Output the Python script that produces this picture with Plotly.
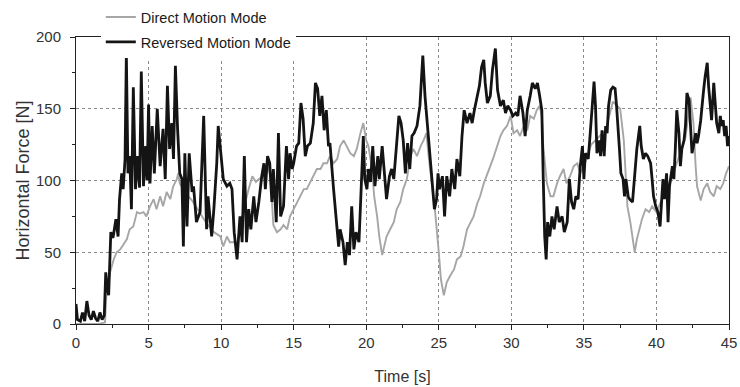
import plotly.graph_objects as go

# ---- Reversed Motion Mode (black) : time [s], force [N] ----
t_rev = [0.0, 0.1, 0.3, 0.45, 0.6, 0.75, 0.9, 1.05, 1.2, 1.35, 1.5, 1.65, 1.8, 1.95, 2.05, 2.15, 2.25, 2.4, 2.55, 2.65,
         2.75, 2.9, 3.0, 3.15, 3.25, 3.38, 3.47, 3.58, 3.7, 3.82, 3.95, 4.1, 4.25, 4.38, 4.5, 4.65, 4.8, 4.9, 5.0, 5.1,
         5.25, 5.4, 5.6, 5.8, 6.0, 6.15, 6.3, 6.45, 6.6, 6.72, 6.85, 7.0, 7.15, 7.3, 7.4, 7.5, 7.65, 7.8, 8.0, 8.1,
         8.3, 8.55, 8.8, 9.0, 9.1, 9.35, 9.5, 9.7, 9.8, 10.0, 10.15, 10.4, 10.6, 10.75, 10.9, 11.1, 11.3, 11.45, 11.6, 11.75,
         11.9, 12.05, 12.25, 12.4, 12.6, 12.8, 12.95, 13.05, 13.2, 13.35, 13.5, 13.6, 13.8, 13.95, 14.1, 14.3, 14.5, 14.65, 14.75, 14.9,
         15.0, 15.2, 15.35, 15.5, 15.65, 15.8, 15.95, 16.15, 16.35, 16.5, 16.65, 16.8, 16.95, 17.1, 17.25, 17.4, 17.5, 17.75, 17.95, 18.1,
         18.2, 18.4, 18.55, 18.7, 18.85, 19.0, 19.15, 19.3, 19.5, 19.7, 19.8, 19.9, 20.05, 20.15, 20.3, 20.45, 20.6, 20.8, 20.9, 21.1,
         21.25, 21.4, 21.6, 21.75, 21.9, 22.1, 22.25, 22.4, 22.55, 22.7, 22.85, 23.0, 23.15, 23.3, 23.5, 23.7, 23.8, 23.9, 24.05, 24.2,
         24.4, 24.55, 24.7, 24.85, 24.95, 25.05, 25.25, 25.4, 25.55, 25.75, 25.9, 26.1, 26.25, 26.45, 26.6, 26.75, 26.95, 27.15, 27.3, 27.45,
         27.65, 27.8, 27.95, 28.1, 28.2, 28.35, 28.55, 28.7, 28.9, 29.05, 29.25, 29.45, 29.6, 29.75, 29.95, 30.1, 30.3, 30.45, 30.6, 30.8,
         30.95, 31.1, 31.3, 31.45, 31.65, 31.8, 31.95, 32.1, 32.2, 32.3, 32.4, 32.5, 32.65, 32.8, 32.95, 33.15, 33.3, 33.5, 33.65, 33.85,
         34.0, 34.15, 34.3, 34.45, 34.6, 34.75, 34.9, 35.0, 35.1, 35.3, 35.4, 35.55, 35.7, 35.8, 35.9, 36.05, 36.15, 36.25, 36.4, 36.5,
         36.6, 36.7, 36.85, 37.0, 37.15, 37.25, 37.35, 37.45, 37.55, 37.7, 37.8, 37.9, 38.05, 38.15, 38.35, 38.45, 38.55, 38.65, 38.85, 38.95,
         39.1, 39.25, 39.4, 39.6, 39.7, 39.8, 39.95, 40.1, 40.25, 40.35, 40.45, 40.55, 40.7, 40.8, 40.9, 41.1, 41.2, 41.3, 41.4, 41.55,
         41.65, 41.75, 41.9, 42.0, 42.1, 42.25, 42.35, 42.45, 42.55, 42.7, 42.8, 42.9, 43.05, 43.15, 43.25, 43.35, 43.5, 43.6, 43.7, 43.8,
         43.95, 44.05, 44.15, 44.3, 44.4, 44.5, 44.6, 44.7, 44.8, 44.9, 45.0]
f_rev = [14, 3, 2, 8, 2, 16, 6, 3, 9, 4, 2, 8, 3, 6, 36, 25, 20, 64, 60, 68,
         73, 61, 87, 105, 94, 115, 188, 105, 117, 80, 165, 94, 117, 95, 176, 96, 124, 100, 153, 98,
         138, 105, 150, 110, 136, 101, 166, 122, 140, 115, 180, 136, 105, 101, 54, 119, 68, 119, 92, 96,
         71, 78, 145, 66, 89, 61, 80, 112, 138, 117, 101, 96, 98, 94, 64, 45, 75, 57, 117, 57,
         80, 66, 89, 71, 85, 103, 112, 94, 117, 112, 85, 108, 71, 133, 75, 82, 124, 101, 119, 108,
         112, 124, 126, 154, 143, 117, 124, 126, 140, 168, 164, 145, 159, 135, 149, 124, 126, 94, 71, 54,
         66, 57, 41, 57, 48, 82, 52, 64, 57, 108, 131, 101, 94, 108, 99, 124, 96, 117, 101, 124,
         108, 87, 103, 108, 101, 124, 145, 140, 128, 105, 126, 108, 131, 133, 138, 152, 168, 187, 159, 140,
         112, 94, 80, 87, 105, 94, 103, 75, 103, 89, 108, 94, 115, 103, 131, 149, 140, 147, 140, 149,
         159, 166, 179, 184, 168, 154, 159, 177, 192, 163, 152, 156, 147, 152, 149, 145, 147, 145, 159, 147,
         131, 149, 159, 168, 164, 168, 159, 149, 101, 61, 45, 71, 61, 75, 66, 82, 71, 75, 64, 71,
         101, 85, 80, 89, 87, 110, 124, 101, 119, 115, 128, 152, 169, 152, 119, 128, 117, 135, 117, 138,
         133, 152, 163, 165, 164, 152, 133, 122, 105, 101, 89, 101, 89, 87, 85, 98, 105, 122, 138, 124,
         115, 119, 117, 112, 101, 89, 82, 78, 68, 89, 101, 87, 105, 71, 96, 110, 101, 122, 149, 133,
         110, 122, 128, 138, 161, 156, 140, 119, 124, 133, 126, 131, 142, 156, 163, 172, 182, 165, 152, 142,
         168, 154, 140, 133, 145, 138, 142, 131, 138, 124, 131]

# ---- Direct Motion Mode (grey) : time [s], force [N] ----
t_dir = [0.0, 0.5, 1.0, 1.5, 2.0, 2.1, 2.35, 2.6, 2.8, 3.05, 3.25, 3.5, 3.7, 3.95, 4.2, 4.4, 4.65, 4.85, 5.1, 5.35,
         5.55, 5.8, 6.0, 6.25, 6.5, 6.7, 6.95, 7.05, 7.15, 7.5, 8.0, 8.5, 9.0, 9.5, 9.95, 10.15, 10.4, 10.6, 10.9, 11.1,
         11.3, 11.55, 11.9, 12.15, 12.4, 12.6, 12.95, 13.15, 13.4, 13.6, 13.85, 14.1, 14.3, 14.55, 14.75, 15.0, 15.2, 15.45, 15.7, 15.9,
         16.15, 16.4, 16.6, 16.85, 17.05, 17.3, 17.5, 17.75, 18.0, 18.2, 18.45, 18.65, 18.9, 19.15, 19.35, 19.6, 19.8, 20.0, 20.15, 20.4,
         20.55, 20.75, 20.9, 21.1, 21.25, 21.4, 21.65, 21.9, 22.1, 22.35, 22.55, 22.8, 23.05, 23.25, 23.5, 23.75, 23.95, 24.15, 24.3, 24.55,
         24.75, 25.0, 25.15, 25.35, 25.55, 25.8, 26.05, 26.25, 26.5, 26.7, 26.95, 27.2, 27.4, 27.65, 27.85, 28.1, 28.3, 28.55, 28.8, 29.0,
         29.25, 29.45, 29.7, 29.95, 30.15, 30.4, 30.6, 30.85, 31.1, 31.3, 31.55, 31.75, 31.95, 32.1, 32.2, 32.45, 32.7, 32.9, 33.15, 33.35,
         33.6, 33.8, 34.05, 34.3, 34.55, 34.75, 35.0, 35.5, 36.0, 36.5, 37.0, 37.3, 37.5, 37.75, 38.0, 38.2, 38.4, 38.5, 38.65, 38.85,
         39.0, 39.25, 39.5, 39.7, 40.0, 40.5, 41.0, 41.5, 42.0, 42.35, 42.55, 42.7, 42.8, 43.05, 43.25, 43.5, 43.7, 43.95, 44.15, 44.4,
         44.6, 44.8, 45.0]
f_dir = [0, 0, 0, 0, 1, 22, 36, 45, 50, 52, 55, 59, 66, 68, 78, 77, 78, 75, 82, 87,
         80, 89, 82, 92, 87, 96, 101, 105, 98, 92, 86, 78, 70, 64, 61, 54, 61, 57, 57, 55,
         65, 80, 94, 103, 99, 101, 103, 112, 103, 69, 64, 66, 69, 66, 75, 80, 85, 89, 94, 94,
         99, 103, 108, 108, 112, 112, 117, 112, 115, 124, 128, 124, 119, 117, 122, 133, 140, 128, 124, 108,
         89, 75, 61, 48, 54, 61, 66, 71, 80, 85, 94, 101, 117, 122, 117, 124, 128, 133, 117, 96,
         78, 50, 31, 20, 29, 34, 38, 45, 47, 54, 66, 71, 75, 84, 89, 98, 103, 110, 117, 124,
         131, 135, 138, 145, 133, 135, 131, 138, 135, 145, 143, 149, 152, 145, 124, 98, 89, 89, 98, 103,
         108, 98, 103, 110, 112, 105, 110, 125, 130, 135, 155, 152, 150, 128, 82, 71, 59, 50, 59, 68,
         73, 80, 78, 82, 78, 90, 100, 115, 130, 158, 140, 110, 96, 86, 94, 98, 92, 89, 96, 94,
         98, 105, 110]

x_ticks = [0, 5, 10, 15, 20, 25, 30, 35, 40, 45]
y_ticks = [0, 50, 100, 150, 200]

FONT = "Liberation Sans, Arial, sans-serif"

fig = go.Figure()
fig.add_trace(go.Scatter(x=t_dir, y=f_dir, mode="lines", name="Direct Motion Mode",
                         legendgroup="d", line=dict(color="#a6a6a6", width=1.9)))
fig.add_trace(go.Scatter(x=t_rev, y=f_rev, mode="lines", name="Reversed Motion Mode",
                         legendgroup="r", line=dict(color="#141414", width=2.8)))

axis_common = dict(
    showline=True, linecolor="#222", linewidth=1, mirror=True,
    ticks="outside", ticklen=5, tickcolor="#222",
    showgrid=True, gridcolor="#8a8a8a", griddash="dot", gridwidth=1,
    zeroline=False,
    tickfont=dict(family=FONT, size=15, color="#333"),
)

fig.update_layout(
    width=740, height=387,
    margin=dict(l=76, r=11, t=37, b=63, autoexpand=False),
    paper_bgcolor="white", plot_bgcolor="white",
    showlegend=True,
    legend=dict(x=0.038, y=1.125, xanchor="left", yanchor="top",
                bgcolor="white", borderwidth=0,
                font=dict(family=FONT, size=14.5, color="#1a1a1a"),
                tracegroupgap=3),
    xaxis=dict(range=[0, 45], tickvals=x_ticks,
               minor=dict(ticks="outside", ticklen=3, dtick=2.5, tick0=0, tickcolor="#222", showgrid=False),
               title=dict(text="Time [s]", font=dict(family=FONT, size=16, color="#333"), standoff=20),
               **axis_common),
    yaxis=dict(range=[0, 200], tickvals=y_ticks, ticklabelstandoff=6,
               minor=dict(ticks="outside", ticklen=3, dtick=25, tick0=0, tickcolor="#222", showgrid=False),
               title=dict(text="Horizontal Force [N]", font=dict(family=FONT, size=18, color="#333"), standoff=1),
               **axis_common),
)

fig.write_html("out.html")
